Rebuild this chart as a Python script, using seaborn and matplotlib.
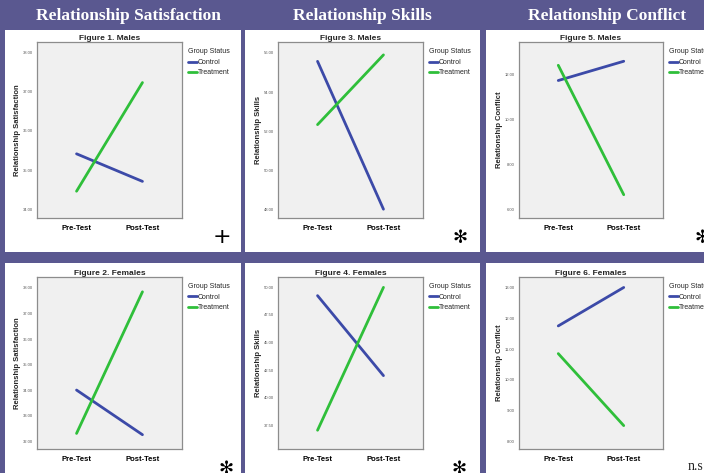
import pandas as pd
import matplotlib
matplotlib.use("Agg")
import matplotlib.pyplot as plt
import seaborn as sns
from matplotlib.patches import Rectangle
from matplotlib.ticker import FormatStrFormatter

# --- data ---
times = ["Pre-Test", "Post-Test"]
groups = ["Control", "Treatment"]
column_titles = ["Relationship Satisfaction", "Relationship Skills", "Relationship Conflict"]
y_labels = ["Relationship Satisfaction", "Relationship Skills", "Relationship Conflict"]
fig_titles = [["Figure 1. Males", "Figure 3. Males", "Figure 5. Males"],
              ["Figure 2. Females", "Figure 4. Females", "Figure 6. Females"]]
sig_marks = [["+", "\u273b", "\u273b"], ["\u273b", "\u273b", "n.s"]]

male_sat_control = [35.42, 34.72]
male_sat_treatment = [34.47, 37.23]
female_sat_control = [34.00, 32.25]
female_sat_treatment = [32.30, 37.85]
male_skills_control = [55.57, 48.00]
male_skills_treatment = [52.33, 55.90]
female_skills_control = [49.25, 42.00]
female_skills_treatment = [37.05, 50.00]
male_conflict_control = [11.74, 12.60]
male_conflict_treatment = [12.42, 6.64]
female_conflict_control = [11.75, 13.00]
female_conflict_treatment = [10.85, 8.51]

male_ticks_sat = [34, 35, 36, 37, 38]
female_ticks_sat = [32, 33, 34, 35, 36, 37, 38]
male_ticks_skills = [48, 50, 52, 54, 56]
female_ticks_skills = [37.5, 40, 42.5, 45, 47.5, 50]
male_ticks_conflict = [6, 8, 10, 12]
female_ticks_conflict = [8, 9, 10, 11, 12, 13]

series = [[(male_sat_control, male_sat_treatment),
           (male_skills_control, male_skills_treatment),
           (male_conflict_control, male_conflict_treatment)],
          [(female_sat_control, female_sat_treatment),
           (female_skills_control, female_skills_treatment),
           (female_conflict_control, female_conflict_treatment)]]
ticks = [[male_ticks_sat, male_ticks_skills, male_ticks_conflict],
         [female_ticks_sat, female_ticks_skills, female_ticks_conflict]]
ylims = [[(33.79, 38.26), (47.55, 56.56), (5.6, 13.46)],
         [(31.69, 38.43), (35.35, 50.94), (7.75, 13.34)]]

# --- layout (pixels) ---
W, H = 704, 473
BG = "#5a5890"
palette = {"Control": "#3c4aa8", "Treatment": "#2fbf3a"}

sns.set_style("white")
plt.rcParams["font.family"] = ["Liberation Sans", "DejaVu Sans"]

fig = plt.figure(figsize=(W / 100, H / 100), dpi=100)
fig.patch.set_facecolor(BG)


def fx(x):
    return x / W


def fy(y):
    return 1 - y / H


panel_x = [(5, 241), (245, 480), (486, 704)]
panel_y = [(30, 252), (263, 473)]
axes_x = [(37, 182), (278, 423), (519, 663)]
axes_y = [(42, 218), (277, 449)]
title_cx = [128, 362, 607]
mark_pos = [[(222, 237), (460, 238), (702, 238)],
            [(226, 469), (459, 469), (688, 466)]]

for c in range(3):
    fig.text(fx(title_cx[c]), fy(16), column_titles[c], color="white",
             fontsize=12.5, fontweight="bold", family="Liberation Serif",
             ha="center", va="center")

for r in range(2):
    for c in range(3):
        x0, x1 = panel_x[c]
        y0, y1 = panel_y[r]
        fig.patches.append(Rectangle((fx(x0), fy(y1)), fx(x1 - x0), (y1 - y0) / H,
                                     transform=fig.transFigure, facecolor="white",
                                     edgecolor="none", zorder=-5))

        ax0, ax1 = axes_x[c]
        ay0, ay1 = axes_y[r]
        ax = fig.add_axes([fx(ax0), fy(ay1), fx(ax1 - ax0), (ay1 - ay0) / H])
        ax.set_zorder(1)
        ctrl, trt = series[r][c]
        df = pd.DataFrame({
            "Time": times * 2,
            "t": [0, 1, 0, 1],
            "Score": ctrl + trt,
            "Group Status": [groups[0]] * 2 + [groups[1]] * 2,
        })
        sns.lineplot(data=df, x="t", y="Score", hue="Group Status", palette=palette,
                     linewidth=2.0, ax=ax)
        ax.set_facecolor("#f0f0f0")
        for s in ax.spines.values():
            s.set_color("#8c8c8c")
            s.set_linewidth(0.9)
        ax.set_xlim(-0.6, 1.6)
        ax.set_ylim(*ylims[r][c])
        ax.set_xticks([0, 1])
        ax.set_xticklabels(times, fontsize=5.5, fontweight="bold")
        ax.set_yticks(ticks[r][c])
        ax.yaxis.set_major_formatter(FormatStrFormatter("%.2f"))
        ax.tick_params(axis="y", labelsize=3, length=2, width=0.5, pad=1, colors="#555555")
        ax.tick_params(axis="x", length=3, width=0.5, pad=2, colors="#8c8c8c", labelcolor="black")
        ax.set_xlabel("")
        ax.set_ylabel(y_labels[c], fontsize=5.5, fontweight="bold", labelpad=1.5)
        ax.set_title(fig_titles[r][c], fontsize=6, fontweight="bold", pad=1.5)
        leg = ax.legend(loc="upper left", bbox_to_anchor=(1.03, 0.975), frameon=False,
                        title="Group Status", fontsize=5, title_fontsize=5,
                        handlelength=1.2, handletextpad=0.15, labelspacing=0.5,
                        borderaxespad=0, borderpad=0.3)
        leg._legend_box.align = "left"
        for line in leg.get_lines():
            line.set_linewidth(2.0)

        mx, my = mark_pos[r][c]
        mark = sig_marks[r][c]
        if mark == "n.s":
            fig.text(fx(mx), fy(my), mark, fontsize=10, family="Liberation Serif",
                     ha="left", va="center", color="#222222")
        elif mark == "+":
            fig.text(fx(mx), fy(my), mark, fontsize=16, family="DejaVu Sans",
                     ha="center", va="center", color="black")
        else:
            fig.text(fx(mx), fy(my), mark, fontsize=13, family="DejaVu Sans",
                     ha="center", va="center", color="black")

fig.savefig("out.png", dpi=100, facecolor=fig.get_facecolor())
